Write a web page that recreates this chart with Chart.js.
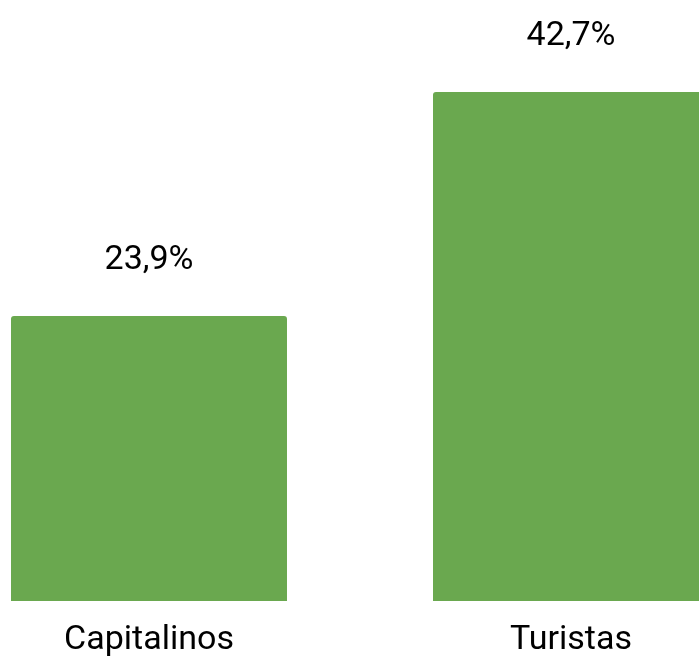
<!DOCTYPE html>
<html lang="es">
<head>
    <meta charset="UTF-8">
    <title>Capitalinos vs Turistas</title>
    <script src="https://cdn.jsdelivr.net/npm/chart.js"></script>
    <style>
        html, body {
            margin: 0;
            padding: 0;
            background: #ffffff;
            overflow: hidden;
            width: 699px;
            height: 659px;
        }
        /* the plot is wider than the window, so it is cropped on both sides */
        .chart-container {
            position: absolute;
            left: -62px;
            top: 0;
            width: 844px;
            height: 659px;
        }
    </style>
</head>
<body>
    <div class="chart-container">
        <canvas id="barChart"></canvas>
    </div>

    <script>
        // Data
        const categories = ["Capitalinos", "Turistas"];
        const shares = [23.9, 42.7];
        const barColor = "#6aa84f";

        // Draw "23,9%" style labels above each bar
        const valueLabels = {
            id: "valueLabels",
            afterDatasetsDraw(chart) {
                const ctx = chart.ctx;
                const meta = chart.getDatasetMeta(0);
                ctx.save();
                ctx.font = "34px Roboto";
                ctx.fillStyle = "#000000";
                ctx.textAlign = "center";
                ctx.textBaseline = "middle";
                meta.data.forEach((bar, i) => {
                    const text = shares[i].toFixed(1).replace(".", ",") + "%";
                    ctx.fillText(text, bar.x, bar.y - 56);
                });
                ctx.restore();
            }
        };

        new Chart(document.getElementById("barChart"), {
            type: "bar",
            data: {
                labels: categories,
                datasets: [{
                    data: shares,
                    backgroundColor: barColor,
                    borderRadius: 3,
                    barPercentage: 0.654,
                    categoryPercentage: 1
                }]
            },
            options: {
                responsive: true,
                maintainAspectRatio: false,
                animation: false,
                layout: { padding: { top: 5, bottom: 0, left: 0, right: 0 } },
                plugins: {
                    legend: { display: false },
                    tooltip: { enabled: false }
                },
                scales: {
                    x: {
                        grid: { display: false, drawTicks: false },
                        border: { display: false },
                        ticks: {
                            color: "#000000",
                            padding: 19,
                            font: { family: "Roboto", size: 34 }
                        },
                        // keep the axis band at a fixed height under the bars
                        afterFit(scale) {
                            scale.height = 58;
                        }
                    },
                    y: {
                        display: false,
                        min: 0,
                        max: 50
                    }
                }
            },
            plugins: [valueLabels]
        });
    </script>
</body>
</html>
